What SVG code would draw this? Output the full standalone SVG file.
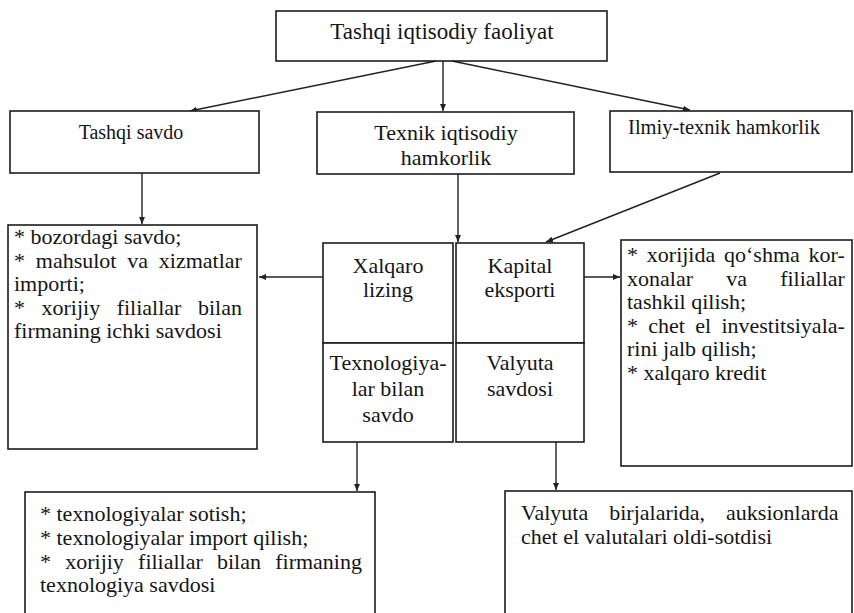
<svg xmlns="http://www.w3.org/2000/svg" width="854" height="613" viewBox="0 0 854 613">
<defs>
<style>
.box{fill:#fff;stroke:#1c1c1c;stroke-width:1.6}
.con{fill:none;stroke:#222;stroke-width:1.4}
.t{font-family:'Liberation Serif','DejaVu Serif','Noto Serif',serif;font-size:22px;fill:#151515}
.c{text-anchor:middle}
</style>
<marker id="ah" markerWidth="8" markerHeight="8" refX="7" refY="4" orient="auto" markerUnits="userSpaceOnUse">
<path d="M0,1 L7,4 L0,7 Z" fill="#222"/>
</marker>
</defs>
<rect width="854" height="613" fill="#fff"/>

<g id="connectors">
<path class="con" d="M436,61 L190,111" marker-end="url(#ah)"/>
<path class="con" d="M443,61 L443,111" marker-end="url(#ah)"/>
<path class="con" d="M452,61 L690,110" marker-end="url(#ah)"/>
<path class="con" d="M142,173 L142,224" marker-end="url(#ah)"/>
<path class="con" d="M458,174 L458,242" marker-end="url(#ah)"/>
<path class="con" d="M720,173 L546,242" marker-end="url(#ah)"/>
<path class="con" d="M323,277 L259,277" marker-end="url(#ah)"/>
<path class="con" d="M584,277 L620,277" marker-end="url(#ah)"/>
<path class="con" d="M357,442 L357,491" marker-end="url(#ah)"/>
<path class="con" d="M556,442 L556,490" marker-end="url(#ah)"/>
</g>

<g class="t">
<g id="n-top">
<rect class="box" x="276" y="11" width="331" height="50"/>
<text class="c" x="442" y="39" font-size="23">Tashqi iqtisodiy faoliyat</text>
</g>

<g id="n-tashqi-savdo">
<rect class="box" x="10" y="111" width="249" height="62"/>
<text class="c" x="131" y="139" font-size="20">Tashqi savdo</text>
</g>

<g id="n-texnik">
<rect class="box" x="317" y="112" width="257" height="62"/>
<text class="c" x="446" y="140">Texnik iqtisodiy</text>
<text class="c" x="446" y="165">hamkorlik</text>
</g>

<g id="n-ilmiy">
<rect class="box" x="610" y="111" width="242" height="61"/>
<text class="c" x="724" y="134" font-size="20.5">Ilmiy-texnik hamkorlik</text>
</g>

<g id="n-left-list">
<rect class="box" x="8" y="225" width="249" height="224"/>
<text x="14" y="244">* bozordagi savdo;</text>
<text x="14" y="267.5" word-spacing="5.3">* mahsulot va xizmatlar</text>
<text x="14" y="291">importi;</text>
<text x="14" y="314.5" word-spacing="11">* xorijiy filiallar bilan</text>
<text x="14" y="338">firmaning ichki savdosi</text>
</g>

<g id="n-xalqaro">
<rect class="box" x="323" y="243" width="130" height="100"/>
<text class="c" x="388" y="273">Xalqaro</text>
<text class="c" x="388" y="297">lizing</text>
</g>

<g id="n-kapital">
<rect class="box" x="456" y="243" width="128" height="100"/>
<text class="c" x="520" y="273">Kapital</text>
<text class="c" x="520" y="297">eksporti</text>
</g>

<g id="n-texnologiya">
<rect class="box" x="323" y="343" width="130" height="99"/>
<text class="c" x="388" y="370">Texnologiya-</text>
<text class="c" x="388" y="396">lar bilan</text>
<text class="c" x="388" y="422">savdo</text>
</g>

<g id="n-valyuta">
<rect class="box" x="456" y="343" width="128" height="99"/>
<text class="c" x="520" y="370">Valyuta</text>
<text class="c" x="520" y="396">savdosi</text>
</g>

<g id="n-right-list">
<rect class="box" x="621" y="240" width="231" height="226"/>
<text x="627" y="262" word-spacing="3.3">* xorijida qo‘shma kor-</text>
<text x="627" y="285.5" word-spacing="27.7">xonalar va filiallar</text>
<text x="627" y="309">tashkil qilish;</text>
<text x="627" y="332.5" word-spacing="4.8">* chet el investitsiyala-</text>
<text x="627" y="356">rini jalb qilish;</text>
<text x="627" y="379.5">* xalqaro kredit</text>
</g>

<g id="n-bottom-left">
<rect class="box" x="25" y="492" width="350" height="130"/>
<text x="40" y="521">* texnologiyalar sotish;</text>
<text x="40" y="545">* texnologiyalar import qilish;</text>
<text x="40" y="568.5" word-spacing="8.7">* xorijiy filiallar bilan firmaning</text>
<text x="40" y="592">texnologiya savdosi</text>
</g>

<g id="n-bottom-right">
<rect class="box" x="505" y="491" width="347" height="131"/>
<text x="521" y="520" word-spacing="15.5">Valyuta birjalarida, auksionlarda</text>
<text x="521" y="543.5">chet el valutalari oldi-sotdisi</text>
</g>
</g>
</svg>
